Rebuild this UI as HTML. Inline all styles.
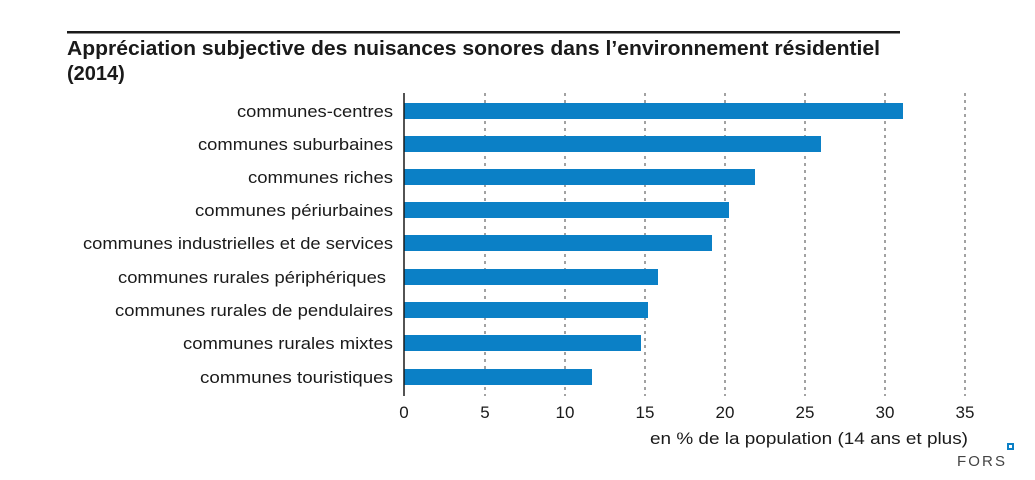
<!DOCTYPE html>
<html><head><meta charset="utf-8"><style>body{margin:0;background:#fff}svg{display:block}</style></head><body>
<svg width="1035" height="480" xmlns="http://www.w3.org/2000/svg" font-family="Liberation Sans, sans-serif">
<rect width="1035" height="480" fill="#fff"/>
<rect x="67" y="31" width="833" height="2.5" fill="#1a1a1a"/>
<text x="67" y="55" font-size="20" font-weight="bold" fill="#1a1a1a" textLength="813" lengthAdjust="spacingAndGlyphs">Appréciation subjective des nuisances sonores dans l’environnement résidentiel</text>
<text x="67" y="80" font-size="20" font-weight="bold" fill="#1a1a1a">(2014)</text>
<g stroke="#444" stroke-width="1" stroke-dasharray="3,4">
<line x1="485" y1="93" x2="485" y2="396"/><line x1="565" y1="93" x2="565" y2="396"/><line x1="645" y1="93" x2="645" y2="396"/><line x1="725" y1="93" x2="725" y2="396"/><line x1="805" y1="93" x2="805" y2="396"/><line x1="885" y1="93" x2="885" y2="396"/><line x1="965" y1="93" x2="965" y2="396"/>
</g>
<g fill="#0b80c6">
<rect x="404" y="103" width="499" height="16"/>
<rect x="404" y="136" width="417" height="16"/>
<rect x="404" y="169" width="351" height="16"/>
<rect x="404" y="202" width="325" height="16"/>
<rect x="404" y="235" width="308" height="16"/>
<rect x="404" y="269" width="254" height="16"/>
<rect x="404" y="302" width="244" height="16"/>
<rect x="404" y="335" width="237" height="16"/>
<rect x="404" y="369" width="188" height="16"/>
</g>
<line x1="404" y1="93" x2="404" y2="396" stroke="#1a1a1a" stroke-width="1.5"/>
<g font-size="17" fill="#1a1a1a" lengthAdjust="spacingAndGlyphs">
<text x="237" y="117" textLength="156" lengthAdjust="spacingAndGlyphs">communes-centres</text>
<text x="198" y="150" textLength="195" lengthAdjust="spacingAndGlyphs">communes suburbaines</text>
<text x="248" y="183" textLength="145" lengthAdjust="spacingAndGlyphs">communes riches</text>
<text x="195" y="216" textLength="198" lengthAdjust="spacingAndGlyphs">communes périurbaines</text>
<text x="83" y="249" textLength="310" lengthAdjust="spacingAndGlyphs">communes industrielles et de services</text>
<text x="118" y="283" textLength="268" lengthAdjust="spacingAndGlyphs">communes rurales périphériques</text>
<text x="115" y="316" textLength="278" lengthAdjust="spacingAndGlyphs">communes rurales de pendulaires</text>
<text x="183" y="349" textLength="210" lengthAdjust="spacingAndGlyphs">communes rurales mixtes</text>
<text x="200" y="383" textLength="193" lengthAdjust="spacingAndGlyphs">communes touristiques</text>
</g>
<g font-size="17" fill="#1a1a1a" text-anchor="middle">
<text x="404" y="418">0</text><text x="485" y="418">5</text><text x="565" y="418">10</text><text x="645" y="418">15</text><text x="725" y="418">20</text><text x="805" y="418">25</text><text x="885" y="418">30</text><text x="965" y="418">35</text>
</g>
<text x="650" y="444" font-size="17" fill="#1a1a1a" textLength="318" lengthAdjust="spacingAndGlyphs">en % de la population (14 ans et plus)</text>
<text x="957" y="466" font-size="15" fill="#444" textLength="48" lengthAdjust="spacing">FORS</text>
<rect x="1008" y="444" width="5" height="5" fill="none" stroke="#0b80c6" stroke-width="2"/>
</svg>
</body></html>
